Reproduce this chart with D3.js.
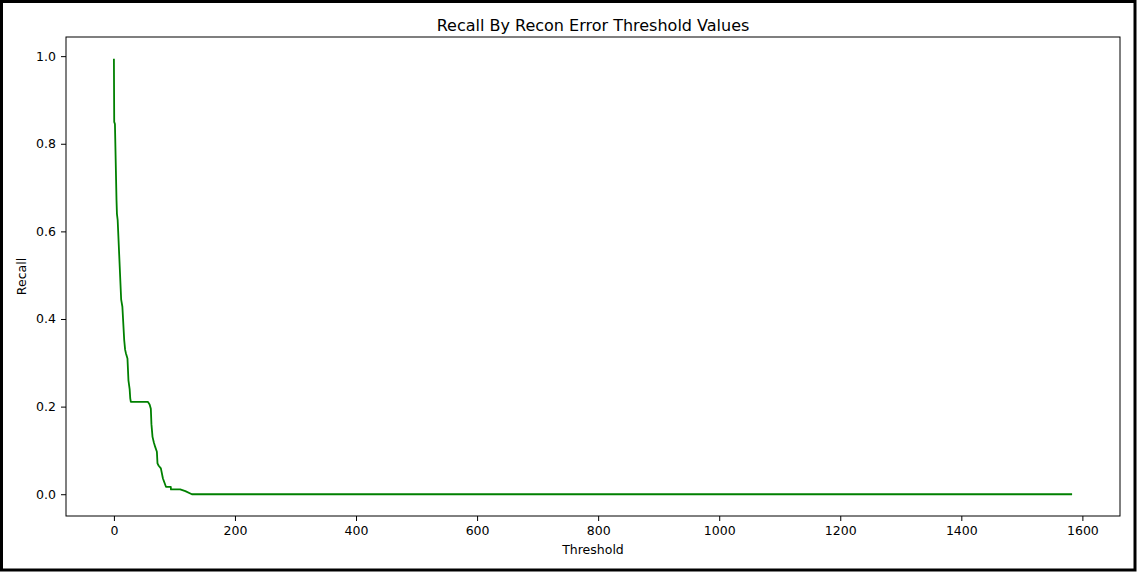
<!DOCTYPE html>
<html>
<head>
<meta charset="utf-8">
<script src="https://cdn.jsdelivr.net/npm/d3@7"></script>
<style>
  html, body { margin: 0; padding: 0; background: #fff; }
  svg { display: block; font-family: "DejaVu Sans", sans-serif; }
</style>
</head>
<body>
<svg id="chart" width="1137" height="572"></svg>
<script>
const title = "Recall By Recon Error Threshold Values";
const xLabel = "Threshold";
const yLabel = "Recall";

const thresholds = [0, 0.5, 1.7, 4.3, 5.0, 6.2, 12, 12.5, 14, 17, 18.5, 19.8, 22.4, 24, 26, 27, 28,
  56, 59, 61, 62, 63.8, 66, 68.2, 71, 72, 74, 77.6, 81, 86, 94, 94.2, 109.5, 118, 128.8, 1583];
const recall = [0.994, 0.85, 0.845, 0.671, 0.64, 0.626, 0.444, 0.44, 0.428, 0.352, 0.33, 0.322, 0.31, 0.26, 0.24, 0.219, 0.211,
  0.211, 0.205, 0.195, 0.16, 0.131, 0.118, 0.108, 0.097, 0.0705, 0.065, 0.059, 0.036, 0.017, 0.017, 0.011, 0.011, 0.007, 0, 0];

const xTicks = [0, 200, 400, 600, 800, 1000, 1200, 1400, 1600];
const yTicks = [0.0, 0.2, 0.4, 0.6, 0.8, 1.0];

const svg = d3.select("#chart");
const W = 1137, H = 572;
const plot = { left: 66, right: 1120, top: 37, bottom: 516 };

// outer frame
svg.append("rect").attr("x", 1.5).attr("y", 1.5).attr("width", W - 3.5).attr("height", H - 3.5)
  .attr("fill", "#fff").attr("stroke", "#000").attr("stroke-width", 3);

const xMin = d3.min(thresholds), xMax = d3.max(thresholds);
const xPad = (xMax - xMin) * 0.05;
const x = d3.scaleLinear().domain([xMin - xPad, xMax + xPad]).range([plot.left, plot.right]);
const yMax = d3.max(recall), yMinV = d3.min(recall);
const yPad = (yMax - yMinV) * 0.05;
const y = d3.scaleLinear().domain([yMinV - yPad, yMax + yPad]).range([plot.bottom, plot.top]);

const line = d3.line().x((d, i) => x(thresholds[i])).y(d => y(d));
svg.append("path").datum(recall)
  .attr("d", line).attr("fill", "none").attr("stroke", "#008000")
  .attr("stroke-width", 1.8).attr("stroke-linejoin", "round");

const xAxis = d3.axisBottom(x).tickValues(xTicks).tickSize(5).tickPadding(5).tickFormat(d3.format("d"));
const gx = svg.append("g").attr("transform", `translate(0,${plot.bottom})`).call(xAxis);
const yAxis = d3.axisLeft(y).tickValues(yTicks).tickSize(5).tickPadding(5).tickFormat(d3.format(".1f"));
const gy = svg.append("g").attr("transform", `translate(${plot.left},0)`).call(yAxis);
[gx, gy].forEach(g => {
  g.select(".domain").remove();
  g.selectAll("text").attr("font-size", 12.5).attr("fill", "#000").attr("font-family", "DejaVu Sans, sans-serif");
  g.selectAll("line").attr("stroke", "#000").attr("stroke-width", 1);
});

// spines
svg.append("rect").attr("x", plot.left).attr("y", plot.top)
  .attr("width", plot.right - plot.left).attr("height", plot.bottom - plot.top)
  .attr("fill", "none").attr("stroke", "#000").attr("stroke-width", 1);

svg.append("text").attr("x", (plot.left + plot.right) / 2).attr("y", 31)
  .attr("text-anchor", "middle").attr("font-size", 16).attr("fill", "#000").text(title);
svg.append("text").attr("x", (plot.left + plot.right) / 2).attr("y", 554)
  .attr("text-anchor", "middle").attr("font-size", 12.5).attr("fill", "#000").text(xLabel);
svg.append("text").attr("transform", `translate(26,${(plot.top + plot.bottom) / 2}) rotate(-90)`)
  .attr("text-anchor", "middle").attr("font-size", 12.5).attr("fill", "#000").text(yLabel);
</script>
</body>
</html>
